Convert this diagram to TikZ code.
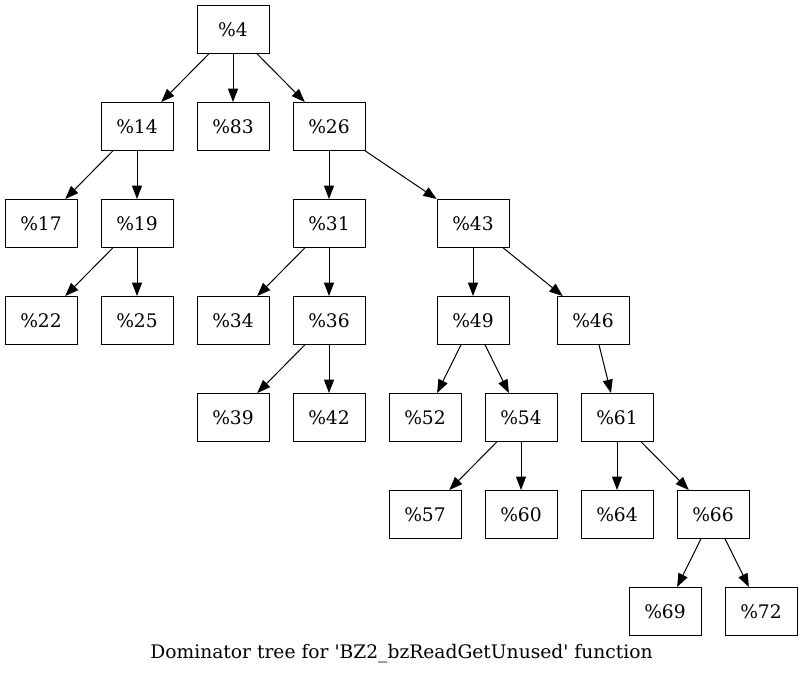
\documentclass[tikz,border=0pt]{standalone}
\usepackage{fontspec}
\setmainfont{DejaVu Serif}
\usetikzlibrary{arrows.meta}
\begin{document}
\begin{tikzpicture}[x=0.75pt,y=-0.75pt,
  box/.style={draw, line width=0.75pt, minimum width=54pt, minimum height=36pt, inner sep=0pt, font=\fontsize{14pt}{16pt}\selectfont},
  edge/.style={-{Triangle[length=10pt,width=7.5pt]}, line width=0.75pt}]
\useasboundingbox (0,0) rectangle (803,675);
\node[box] (n4)  at (233,29.5) {\%4};
\node[box] (n14) at (137,126.5) {\%14};
\node[box] (n83) at (233,126.5) {\%83};
\node[box] (n26) at (329,126.5) {\%26};
\node[box] (n17) at (41,223.5) {\%17};
\node[box] (n19) at (137,223.5) {\%19};
\node[box] (n31) at (329,223.5) {\%31};
\node[box] (n43) at (473,223.5) {\%43};
\node[box] (n22) at (41,320.5) {\%22};
\node[box] (n25) at (137,320.5) {\%25};
\node[box] (n34) at (233,320.5) {\%34};
\node[box] (n36) at (329,320.5) {\%36};
\node[box] (n49) at (473,320.5) {\%49};
\node[box] (n46) at (593,320.5) {\%46};
\node[box] (n39) at (233,417.5) {\%39};
\node[box] (n42) at (329,417.5) {\%42};
\node[box] (n52) at (425,417.5) {\%52};
\node[box] (n54) at (521,417.5) {\%54};
\node[box] (n61) at (617,417.5) {\%61};
\node[box] (n57) at (425,514.5) {\%57};
\node[box] (n60) at (521,514.5) {\%60};
\node[box] (n64) at (617,514.5) {\%64};
\node[box] (n66) at (713,514.5) {\%66};
\node[box] (n69) at (665,611.5) {\%69};
\node[box] (n72) at (761,611.5) {\%72};
\node[anchor=base, font=\fontsize{14pt}{16pt}\selectfont, inner sep=0pt] (cap) at (401.5,658) {Dominator tree for \textquotesingle BZ2\_bzReadGetUnused\textquotesingle{} function};
\foreach \a/\b in {n4/n14,n4/n83,n4/n26,n14/n17,n14/n19,n19/n22,n19/n25,n26/n31,n26/n43,n31/n34,n31/n36,n36/n39,n36/n42,n43/n49,n43/n46,n49/n52,n49/n54,n46/n61,n54/n57,n54/n60,n61/n64,n61/n66,n66/n69,n66/n72}
  \draw[edge] (\a) -- (\b);
\end{tikzpicture}
\end{document}
